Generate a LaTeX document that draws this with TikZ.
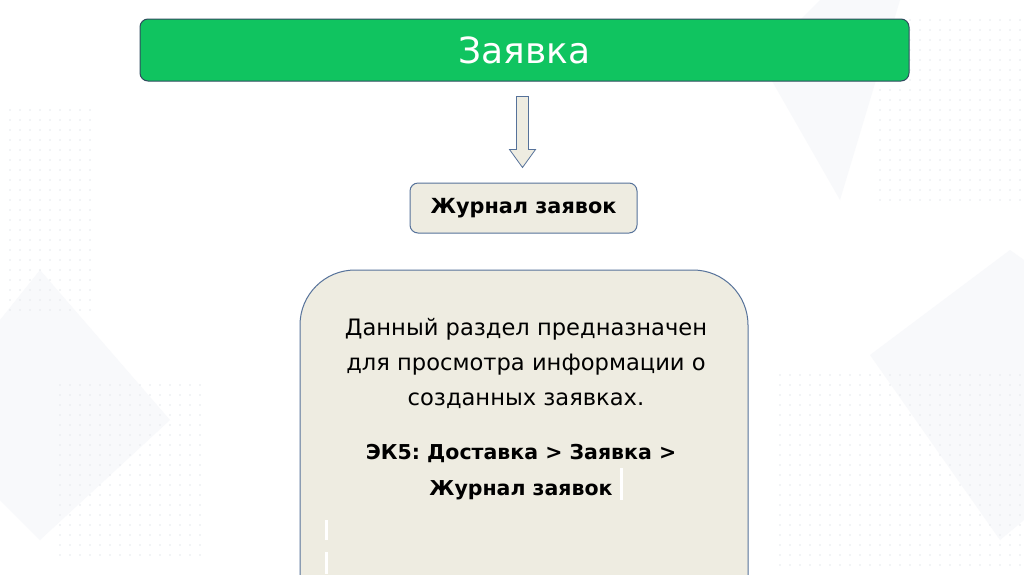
\documentclass[tikz,border=0pt]{standalone}
\usepackage{fontspec}
\setmainfont{DejaVu Sans}
\usetikzlibrary{calc}
\definecolor{tgreen}{HTML}{10C460}
\definecolor{tgreenb}{HTML}{2F4B5E}
\definecolor{beige}{HTML}{EEECE1}
\definecolor{bborder}{HTML}{56729A}
\definecolor{faint}{HTML}{F8F9FB}
\definecolor{dotc}{HTML}{E6E9EE}
\tikzset{
  titlebox/.style={draw=tgreenb, line width=1pt, fill=tgreen, rounded corners=8pt,
    minimum width=769pt, minimum height=62pt, inner sep=0pt, text=white,
    font=\fontsize{36}{40}\selectfont},
  smallbox/.style={draw=bborder, line width=1pt, fill=beige, rounded corners=8pt,
    minimum width=227pt, minimum height=50pt, inner sep=0pt,
    font=\bfseries\fontsize{20.8}{24}\selectfont},
  bigbox/.style={draw=bborder, line width=1pt, fill=beige, rounded corners=55pt},
  blockarrow/.style={draw=bborder, line width=0.8pt, fill=beige},
  bodytext/.style={align=center, font=\fontsize{22.6}{35}\selectfont},
  pathtext/.style={align=center, font=\bfseries\fontsize{20.5}{36}\selectfont},
  dot/.style={fill=dotc, draw=none}
}
\begin{document}
\frenchspacing
\begin{tikzpicture}[x=1pt,y=-1pt]
\useasboundingbox (0,0) rectangle (1024,574);
\clip (0,0) rectangle (1024,574);
\fill[white] (0,0) rectangle (1024,574);
% faint background shapes
\fill[faint] (0,320) -- (40,270) -- (170,420) -- (40,540) -- (0,500) -- cycle;
\fill[faint] (870,355) -- (1010,250) -- (1024,260) -- (1024,520) -- (1000,540) -- cycle;
\fill[faint] (760,60) -- (820,0) -- (900,0) -- (840,200) -- cycle;
% faint dot grids
\foreach \i in {0,...,8}{\foreach \j in {0,...,20}{\fill[dot] (10+10*\i,110+10*\j) circle (0.9);}}
\foreach \i in {0,...,14}{\foreach \j in {0,...,17}{\fill[dot] (60+10*\i,385+10*\j) circle (0.9);}}
\foreach \i in {0,...,14}{\foreach \j in {0,...,18}{\fill[dot] (880+10*\i,20+10*\j) circle (0.9);}}
\foreach \i in {0,...,24}{\foreach \j in {0,...,19}{\fill[dot] (780+10*\i,375+10*\j) circle (0.9);}}
% nodes
\node[titlebox] (title) at (524.5,50) {Заявка};
\node[smallbox] (journal) at (523.5,208) {Журнал заявок};
\draw[bigbox] (300,270) rectangle (748,640);
\node[bodytext] (desc) at (526,363) {Данный раздел предназначен\\для просмотра информации о\\созданных заявках.};
\node[pathtext] (path) at (521,472) {ЭК5: Доставка > Заявка >\\Журнал заявок};
% block arrow from title to journal
\coordinate (as) at ($(title.south)+(-2,15)$);
\coordinate (ae) at ($(journal.north)+(-1,-15)$);
\draw[blockarrow] ($(as)+(-6,0)$) -- ($(as)+(6,0)$) -- ($(ae)+(6,-18)$) -- ($(ae)+(13,-18)$)
  -- (ae) -- ($(ae)+(-13,-18)$) -- ($(ae)+(-6,-18)$) -- cycle;
% small white marks
\fill[white] (620,468) rectangle (623,500);
\fill[white] (325,520) rectangle (328,540);
\fill[white] (325,552) rectangle (328,574);
\end{tikzpicture}
\end{document}
